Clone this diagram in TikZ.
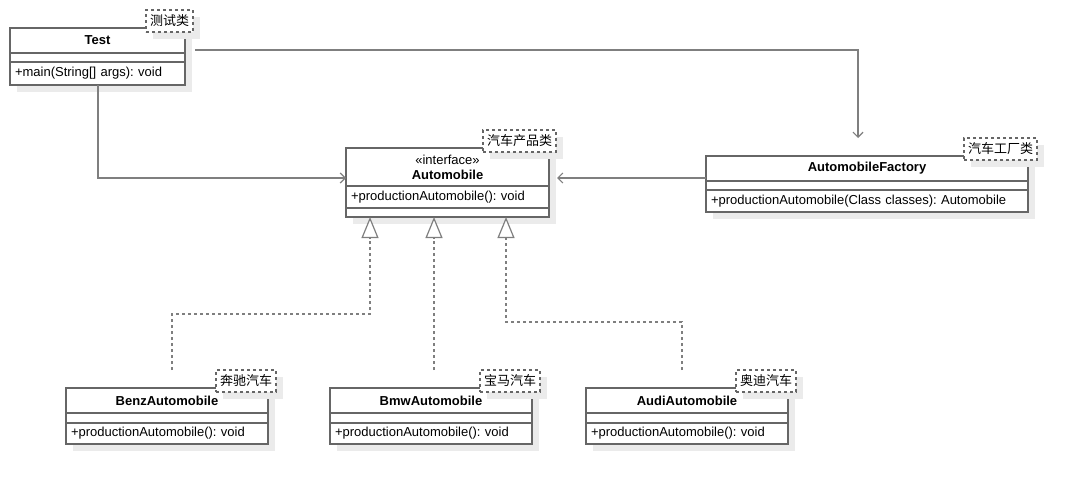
\documentclass[tikz,border=0pt]{standalone}
\usepackage{fontspec}
\setmainfont{Liberation Sans}
\newfontfamily\cjk{Noto Sans CJK SC}
\usepackage{tikz}
\usetikzlibrary{arrows.meta}
\usetikzlibrary{shadows}
\definecolor{boxline}{HTML}{666666}
\definecolor{arrline}{HTML}{7F7F7F}
\definecolor{shadegray}{HTML}{EBEBEB}
\frenchspacing
\tikzset{ box_shade/.style = {drop shadow={shadow xshift=7pt, shadow yshift=-7pt, fill=shadegray, opacity=1}} }
\tikzset{ cls_part/.style = {rectangle, draw=boxline, line width=1.6pt, fill=white, anchor=north west, inner sep=0pt, outer sep=0pt, box_shade, font=\fontsize{13}{15}\selectfont} }
\tikzset{ cls_name/.style = {cls_part, align=center, font=\fontsize{13}{15}\selectfont\bfseries} }
\tikzset{ cls_attr/.style = {cls_part, minimum height=9pt} }
\tikzset{ cls_ops/.style = {cls_part, align=left, inner xsep=5pt, minimum height=22pt} }
\tikzset{ note_tag/.style = {rectangle, draw=boxline, dashed, line width=1.2pt, fill=white, anchor=north west, inner xsep=4pt, inner ysep=0pt, outer sep=0pt, minimum height=22pt, box_shade, font=\cjk\fontsize{13}{15}\selectfont} }
\tikzset{ assoc_arrow/.style = {draw=arrline, line width=1.2pt, -{Straight Barb[length=5pt,width=10pt]}} }
\tikzset{ real_arrow/.style = {draw=arrline, line width=1.2pt, dash pattern=on 3pt off 3pt, -{Triangle[open,length=21pt,width=17pt,fill=white]}} }

\begin{document}
\begin{tikzpicture}[x=1pt,y=-1pt]
        \useasboundingbox (0,0) rectangle (1078,485);
        % test class
        \node[cls_name, minimum width=175pt, minimum height=25pt] (test) at (10,28) {Test};
        \node[cls_attr, minimum width=175pt] (test_a) at (test.south west) {};
        \node[cls_ops, text width=165pt, minimum height=23pt] (test_o) at (test_a.south west) {+main(String[] args): void};
        \node[note_tag] (test_n) at (146,10) {测试类};
        % interface
        \node[cls_name, minimum width=203pt, minimum height=38pt, font=\fontsize{13}{15}\selectfont] (auto) at (346,148) {«interface»\\\textbf{Automobile}};
        \node[cls_ops, text width=193pt] (auto_o) at (auto.south west) {+productionAutomobile(): void};
        \node[cls_attr, minimum width=203pt] (auto_a) at (auto_o.south west) {};
        \node[note_tag] (auto_n) at (483,130) {汽车产品类};
        % factory
        \node[cls_name, minimum width=322pt, minimum height=25pt] (fact) at (706,156) {AutomobileFactory};
        \node[cls_attr, minimum width=322pt] (fact_a) at (fact.south west) {};
        \node[cls_ops, text width=312pt] (fact_o) at (fact_a.south west) {+productionAutomobile(Class classes): Automobile};
        \node[note_tag] (fact_n) at (964,138) {汽车工厂类};
        % products
        \node[cls_name, minimum width=202pt, minimum height=25pt] (benz) at (66,388) {BenzAutomobile};
        \node[cls_attr, minimum width=202pt, minimum height=10pt] (benz_a) at (benz.south west) {};
        \node[cls_ops, text width=192pt, minimum height=21pt] (benz_o) at (benz_a.south west) {+productionAutomobile(): void};
        \node[note_tag] (benz_n) at (216,370) {奔驰汽车};
        \node[cls_name, minimum width=202pt, minimum height=25pt] (bmw) at (330,388) {BmwAutomobile};
        \node[cls_attr, minimum width=202pt, minimum height=10pt] (bmw_a) at (bmw.south west) {};
        \node[cls_ops, text width=192pt, minimum height=21pt] (bmw_o) at (bmw_a.south west) {+productionAutomobile(): void};
        \node[note_tag] (bmw_n) at (480,370) {宝马汽车};
        \node[cls_name, minimum width=202pt, minimum height=25pt] (audi) at (586,388) {AudiAutomobile};
        \node[cls_attr, minimum width=202pt, minimum height=10pt] (audi_a) at (audi.south west) {};
        \node[cls_ops, text width=192pt, minimum height=21pt] (audi_o) at (audi_a.south west) {+productionAutomobile(): void};
        \node[note_tag] (audi_n) at (736,370) {奥迪汽车};
        % associations
        \draw[assoc_arrow] ([xshift=88pt]test_o.south west) |- ([yshift=8pt]auto.south west);
        \draw[assoc_arrow] ([xshift=10pt,yshift=-9.5pt]test.east) -| ([xshift=-9pt]fact.north |- fact_n.north);
        \draw[assoc_arrow] ([yshift=3pt]fact.south west) -- ([xshift=8pt,yshift=8pt]auto.south east);
        % realizations
        \draw[real_arrow] ([xshift=5pt]benz.north |- benz_n.north) -- ++(0,-56) -| ([xshift=24pt]auto_a.south west);
        \draw[real_arrow] ([xshift=3pt]bmw.north |- bmw_n.north) -- ([xshift=88pt]auto_a.south west);
        \draw[real_arrow] ([xshift=-5pt]audi.north |- audi_n.north) -- ++(0,-48) -| ([xshift=160pt]auto_a.south west);
        \end{tikzpicture}
\end{document}
